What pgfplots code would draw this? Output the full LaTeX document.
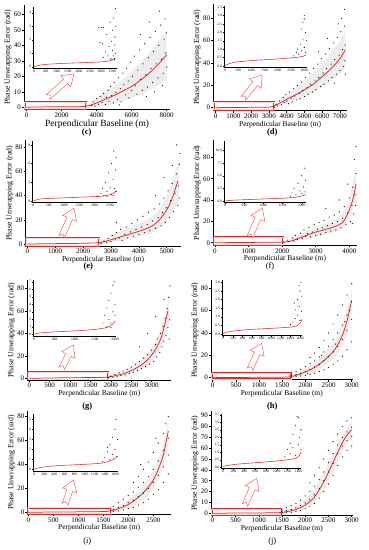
\documentclass[border=0pt]{standalone}
\usepackage{fontspec}
\setmainfont{Liberation Serif}
\usepackage{pgfplots}
\pgfplotsset{compat=1.18}
\definecolor{cr}{RGB}{232,36,36}
\definecolor{ar}{RGB}{242,110,110}
\definecolor{dotc}{RGB}{160,160,160}
\definecolor{bandc}{RGB}{237,237,237}
\definecolor{pk}{RGB}{252,215,215}
\pgfplotsset{
 mainax/.style={scale only axis, anchor=south west, axis lines*=left,
   axis line style={line width=0.8pt}, tick align=outside, major tick length=2pt,
   tick style={black, line width=0.5pt},
   ticklabel style={font=\fontsize{7}{7}\selectfont, inner sep=1pt},
   xlabel style={font=\fontsize{7.5}{8}\selectfont, inner sep=1pt},
   ylabel style={font=\fontsize{7.8}{8}\selectfont, inner sep=1pt},
   xlabel={Perpendicular Baseline (m)}, ylabel={Phase Unwrapping Error (rad)},
   /pgf/number format/set thousands separator={},
   /pgf/number format/assume math mode=true, clip=false},
 inax/.style={scale only axis, anchor=south west, axis lines*=left,
   axis line style={line width=0.55pt}, tick align=outside, major tick length=1.2pt,
   tick style={black, line width=0.35pt},
   ticklabel style={font=\fontsize{3.6}{3.6}\selectfont, inner sep=0.6pt},
   /pgf/number format/set thousands separator={},
   /pgf/number format/assume math mode=true, clip=false},
 sc/.style={only marks, mark=*, mark size=0.32pt, mark options={draw=none, fill=dotc}},
 isc/.style={only marks, mark=*, mark size=0.25pt, mark options={draw=none, fill=dotc}},
 cv/.style={no marks, smooth, color=cr, line width=0.75pt},
 icv/.style={no marks, smooth, color=cr, line width=0.55pt},
 bd/.style={fill=bandc, draw=none},
 rb/.style={no marks, sharp plot, color=cr, line width=0.6pt, double=pk, double distance=0.7pt},
}
\newcommand{\hollowarrow}[4]{%
 \begin{scope}[shift={(#1pt,#2pt)}, rotate=#3, x=1pt, y=1pt]
 \draw[ar, line width=0.55pt, fill=white] (3,0) -- (0,3) -- ({#4-11},3) -- ({#4-11},7.5) -- (#4,0) -- ({#4-11},-7.5) -- ({#4-11},-3) -- (0,-3) -- cycle;
 \end{scope}}
\begin{document}
\begin{tikzpicture}
\useasboundingbox (0,0) rectangle (369pt,550pt);
% ================= (c)
\begin{axis}[mainax, at={(24.07pt,440.7pt)}, width=146.1pt, height=104.3pt,
  xmin=-150, xmax=8200, ymin=-1.3, ymax=66, xtick={0,2000,4000,6000,8000}, ytick={0,10,...,60},
  xlabel style={font=\fontsize{9.5}{10}\selectfont}]
\addplot[bd] coordinates {(3500,1.5)(4000,6)(4500,10)(5000,14)(5500,18)(6000,23)(6500,29)(7000,35)(7500,42)(8000,50)(8000,18)(7500,14)(7000,11)(6500,8)(6000,6)(5500,4)(5000,2.5)(4500,1.2)(4000,0.3)(3500,0)} -- cycle;
\addplot[sc] coordinates {(3700,1.2)(3800,3.5)(3900,0.8)(4000,5.5)(4100,2)(4200,7)(4300,3.2)(4400,9)(4500,1.8)(4550,6.5)(4650,11)(4700,4)(4800,13.5)(4850,7.5)(4950,2.8)(5000,16)(5100,9.5)(5200,5)(5250,19)(5350,12)(5400,3.5)(5500,22)(5550,14.5)(5650,8)(5700,25)(5800,17)(5850,6)(5950,29)(6000,11)(6050,20)(6150,33)(6200,14)(6300,8.5)(6350,24)(6450,37)(6500,18)(6600,11)(6650,28)(6750,41)(6800,21)(6900,13)(6950,32)(7050,45)(7100,25)(7200,16)(7250,36)(7350,49)(7400,28)(7500,19)(7550,40)(7650,53)(7700,31)(7800,22)(7850,44)(7900,57)(7950,35)(8000,26)(7980,48)(7750,14)(7300,10)(6850,7)(5300,1.5)(7600,62)(7000,55)(6500,47)};
\addplot[rb] coordinates {(-120,-0.9)(3400,-0.9)(3400,3.3)(-120,3.3)} -- cycle;
\addplot[cv] coordinates {(0,0)(500,0.2)(1500,0.3)(2500,0.35)(3300,0.5)(3600,1.2)(4000,2.8)(4500,5.2)(5000,7.7)(5500,10.5)(6000,13.5)(6500,17.5)(7000,22)(7500,27.5)(8000,33.8)};
\end{axis}
\hollowarrow{48}{453}{41.5}{34.7}
\begin{axis}[inax, at={(33.2pt,481.95pt)}, width=83.6pt, height=61pt,
  xmin=-50, xmax=3700, ymin=-0.1, ymax=4.42, ytick={0,1,2,3,4}, xtick={0,500,...,3500}]
\addplot[isc] coordinates {(2900,2.9)(3000,2.9)(3100,2.9)(2950,1.8)(3050,1.7)(3100,0.7)(3200,1.1)(3250,2.4)(3300,0.8)(3350,1.5)(3400,3.3)(3420,0.6)(3450,1.9)(3500,1.2)(3500,2.7)(3550,0.8)(3550,3.6)(3600,1.6)(3600,0.6)(3620,2.2)(3650,4.3)(3650,1.0)(3660,3.0)(3580,0.5)(3480,0.55)};
\addplot[icv] coordinates {(0,0)(200,0.1)(500,0.17)(1000,0.22)(1500,0.26)(2000,0.29)(2500,0.32)(3000,0.36)(3300,0.42)(3500,0.5)(3650,0.6)};
\end{axis}
\node[font=\bfseries\fontsize{8.5}{8.5}\selectfont] at (86.7pt,417.3pt) {(c)};
% ================= (d)
\begin{axis}[mainax, at={(213.3pt,439.3pt)}, width=133.8pt, height=106.9pt,
  xmin=-135, xmax=7400, ymin=-2.7, ymax=93, xtick={0,1000,...,7000}, ytick={0,20,...,80}]
\addplot[bd] coordinates {(3200,1)(3600,7)(4000,12)(4500,18)(5000,24)(5500,31)(6000,40)(6500,49)(7000,60)(7300,68)(7300,36)(7000,30)(6500,24)(6000,19)(5500,14)(5000,10)(4500,7)(4000,4)(3600,1.5)(3200,0)} -- cycle;
\addplot[sc] coordinates {(3300,0.5)(3400,3)(3500,1.5)(3600,6)(3700,2.5)(3800,9)(3850,4.5)(3950,12)(4000,6)(4100,3.5)(4150,14)(4250,8.5)(4300,5)(4400,17)(4450,10.5)(4550,7)(4600,20)(4700,13)(4750,8)(4850,23)(4900,15.5)(5000,10)(5050,27)(5150,18)(5200,12)(5300,31)(5350,21)(5450,14)(5500,35)(5600,24)(5650,16)(5750,39)(5800,27)(5900,19)(5950,44)(6050,31)(6100,21)(6200,48)(6250,35)(6350,24)(6400,53)(6500,39)(6550,27)(6650,58)(6700,43)(6800,30)(6850,63)(6950,47)(7000,33)(7050,68)(7150,52)(7200,37)(7250,73)(7300,56)(7280,42)(7100,80)(7250,88)(6900,75)(6300,62)(5800,50)(7300,30)(6700,22)};
\addplot[rb] coordinates {(-110,-1.9)(3300,-1.9)(3300,4.8)(-110,4.8)} -- cycle;
\addplot[cv] coordinates {(0,0)(1000,0.2)(2000,0.3)(3000,0.5)(3300,1.5)(3600,4)(4000,7.5)(4500,11.5)(5000,16)(5500,21)(6000,28)(6500,35)(7000,44)(7300,52)};
\end{axis}
\hollowarrow{243.3}{451.7}{50.8}{30}
\begin{axis}[inax, at={(224pt,482.7pt)}, width=82.9pt, height=61.7pt,
  xmin=-38, xmax=3100, ymin=-0.08, ymax=3.6, ytick={0,0.5,...,3.5}, xtick={0,500,...,3000},
  yticklabel style={/pgf/number format/.cd, fixed, fixed zerofill, precision=1}]
\addplot[isc] coordinates {(2600,0.6)(2700,0.8)(2750,1.0)(2800,0.7)(2850,1.3)(2900,0.9)(2950,1.6)(2950,2.6)(3000,1.1)(3000,3.0)(3050,2.0)(3050,0.8)(3000,2.8)(2900,2.2)(3080,1.5)};
\addplot[icv] coordinates {(0,0.02)(100,0.1)(300,0.2)(500,0.25)(1000,0.32)(1500,0.37)(2000,0.42)(2500,0.48)(2800,0.53)(3000,0.6)(3080,0.68)};
\end{axis}
\node[font=\bfseries\fontsize{8.5}{8.5}\selectfont] at (272.3pt,417.3pt) {(d)};
% ================= (e)
\begin{axis}[mainax, at={(25.6pt,303.94pt)}, width=155pt, height=106pt,
  xmin=-60, xmax=5500, ymin=-1.7, ymax=86, xtick={0,1000,...,5000}, ytick={0,20,...,80}]
\addplot[bd] coordinates {(2600,1.5)(3000,7)(3500,12)(4000,17)(4500,23)(4800,30)(5000,40)(5200,52)(5450,72)(5450,36)(5200,26)(5000,19)(4800,14)(4500,9)(4000,6)(3500,3.5)(3000,1.5)(2600,0)} -- cycle;
\addplot[sc] coordinates {(2650,0.5)(2750,2.5)(2850,1)(2900,4.5)(3000,2)(3050,7)(3150,3.5)(3200,9.5)(3300,5)(3350,12)(3400,3)(3500,8)(3550,14)(3600,5)(3700,10)(3750,17)(3800,6.5)(3900,12)(3950,20)(4000,8)(4100,14)(4150,23)(4200,9.5)(4300,16)(4350,26)(4400,11)(4500,19)(4550,29)(4600,13)(4700,22)(4750,33)(4800,15)(4850,26)(4900,38)(4950,18)(5000,30)(5050,44)(5100,22)(5150,36)(5200,50)(5250,27)(5300,42)(5350,58)(5400,32)(5420,48)(5450,66)(5480,75)(5350,82)(5200,65)(4900,55)(5450,38)(4600,40)(3200,18)};
\addplot[rb] coordinates {(-40,-1.3)(2580,-1.3)(2580,5)(-40,5)} -- cycle;
\addplot[cv] coordinates {(0,0)(1000,0.3)(2000,0.6)(2600,1.2)(3000,3.5)(3500,7)(4000,10.5)(4400,14)(4700,19)(5000,28)(5200,38)(5400,52)};
\end{axis}
\hollowarrow{61.7}{313.3}{66.6}{31}
\begin{axis}[inax, at={(32.1pt,347.8pt)}, width=84.7pt, height=61pt,
  xmin=-40, xmax=2720, ymin=-0.2, ymax=9.6, ytick={0,3,6,9}, xtick={0,500,...,2500}]
\addplot[isc] coordinates {(2100,0.8)(2200,1.2)(2250,2.0)(2300,0.9)(2350,3.0)(2400,1.5)(2450,4.5)(2500,2.2)(2550,6.0)(2550,1.0)(2600,3.5)(2620,8.0)(2650,2.0)(2680,5.0)(2700,1.5)(2700,7.0)(2400,0.7)(2600,0.9)};
\addplot[icv] coordinates {(0,0)(200,0.3)(500,0.4)(1000,0.5)(1500,0.6)(2000,0.7)(2300,0.8)(2500,1.0)(2650,1.4)(2700,1.7)};
\end{axis}
\node[font=\bfseries\fontsize{8.5}{8.5}\selectfont] at (88.3pt,283.3pt) {(e)};
% ================= (f)
\begin{axis}[mainax, at={(213.3pt,304.7pt)}, width=143.4pt, height=105pt,
  xmin=-50, xmax=4220, ymin=-2.4, ymax=96, xtick={0,1000,...,4000}, ytick={0,20,...,80}]
\addplot[bd] coordinates {(2000,1)(2300,4)(2600,9)(3000,15)(3300,18)(3600,22)(3800,28)(4000,40)(4200,72)(4200,40)(4000,22)(3800,13)(3600,10)(3300,8)(3000,5.5)(2600,2.5)(2300,0.8)(2000,0)} -- cycle;
\addplot[sc] coordinates {(2050,0.5)(2150,2.5)(2200,1)(2300,4.5)(2350,1.5)(2400,7)(2450,3)(2550,9)(2600,4)(2650,12)(2700,6)(2750,8.5)(2800,14)(2850,5.5)(2900,10)(2950,17)(3000,7)(3050,12.5)(3100,19)(3150,8)(3200,14)(3250,21)(3300,9.5)(3350,16)(3400,24)(3450,11)(3500,18)(3550,26)(3600,12)(3650,20)(3700,29)(3750,14)(3800,23)(3850,34)(3900,17)(3950,28)(4000,42)(4030,20)(4080,35)(4100,52)(4130,27)(4170,45)(4200,65)(4190,35)(4150,78)(4200,90)(3950,55)(3700,40)(3300,32)(4100,18)};
\addplot[rb] coordinates {(-30,-1.9)(2035,-1.9)(2035,5)(-30,5)} -- cycle;
\addplot[cv] coordinates {(0,0)(1000,0.3)(2000,0.6)(2300,2)(2600,5.5)(3000,10)(3300,12.5)(3600,15.5)(3800,19)(3950,27)(4100,40)(4200,55)};
\end{axis}
\hollowarrow{250}{313.3}{66.6}{31}
\begin{axis}[inax, at={(223.85pt,347.5pt)}, width=81.7pt, height=61pt,
  xmin=-30, xmax=2100, ymin=-0.3, ymax=11.8, ytick={0,2.5,...,10}, xtick={0,500,...,2000},
  yticklabel style={/pgf/number format/.cd, fixed, fixed zerofill, precision=1}]
\addplot[isc] coordinates {(1700,0.9)(1750,1.6)(1800,2.5)(1850,1.2)(1900,3.5)(1950,2.0)(2000,5.0)(2000,1.5)(2050,2.8)(2080,6.5)(2090,1.8)(2100,4.0)};
\addplot[icv] coordinates {(0,0)(200,0.15)(500,0.25)(1000,0.4)(1500,0.55)(1800,0.7)(1950,0.9)(2050,1.1)(2100,1.3)};
\end{axis}
\node[font=\fontsize{8.5}{8.5}\selectfont] at (270pt,284pt) {(f)};
% ================= (g)
\begin{axis}[mainax, at={(27.34pt,170pt)}, width=143.9pt, height=99.6pt,
  xmin=-48, xmax=3480, ymin=-1.5, ymax=87, xtick={0,500,...,3000}, ytick={0,20,...,80}]
\addplot[bd] coordinates {(1900,1.5)(2100,4)(2300,6.5)(2500,10)(2700,15)(2900,22)(3100,33)(3250,46)(3420,72)(3420,48)(3250,30)(3100,19)(2900,11)(2700,7)(2500,4)(2300,2)(2100,0.8)(1900,0)} -- cycle;
\addplot[sc] coordinates {(1950,0.5)(2000,2)(2050,1)(2100,3.5)(2150,1.5)(2200,5)(2250,2.5)(2300,6.5)(2350,3)(2400,8)(2450,4.5)(2500,10)(2550,5.5)(2600,12.5)(2650,7)(2700,15)(2750,8.5)(2800,18)(2850,10.5)(2900,21)(2950,12.5)(3000,25)(3050,15)(3100,30)(3120,19)(3150,35)(3200,23)(3220,40)(3250,28)(3280,46)(3300,33)(3330,53)(3350,38)(3380,62)(3400,45)(3420,72)(3440,52)(3450,82)(3300,70)(3100,55)(2900,40)(3430,35)(2700,28)};
\addplot[rb] coordinates {(-30,-1.1)(1940,-1.1)(1940,5.3)(-30,5.3)} -- cycle;
\addplot[cv] coordinates {(0,0)(500,0.3)(1000,0.5)(1500,0.7)(1900,1)(2100,2.3)(2300,4)(2500,6.8)(2700,10.8)(2900,16.5)(3100,26)(3250,38)(3400,60)};
\end{axis}
\hollowarrow{61.7}{181.7}{63.5}{26}
\begin{axis}[inax, at={(33.1pt,214.2pt)}, width=83.1pt, height=55.5pt,
  xmin=-30, xmax=2030, ymin=-0.2, ymax=7.2, ytick={0,1,...,7}, xtick={0,500,...,2000}]
\addplot[isc] coordinates {(1700,1.5)(1750,2.5)(1800,1.0)(1800,3.5)(1850,4.5)(1850,2.0)(1900,5.5)(1900,1.5)(1950,6.5)(1950,3.0)(1980,7.0)(2000,4.0)(2000,2.5)(1900,0.9)};
\addplot[icv] coordinates {(0,0)(100,0.15)(300,0.25)(600,0.35)(1000,0.45)(1400,0.6)(1700,0.8)(1850,1.0)(1950,1.4)(2000,1.8)};
\end{axis}
\node[font=\bfseries\fontsize{8.5}{8.5}\selectfont] at (87.3pt,144pt) {(g)};
% ================= (h)
\begin{axis}[mainax, at={(211pt,170.1pt)}, width=141.6pt, height=99.5pt,
  xmin=-37, xmax=3020, ymin=-2, ymax=87, xtick={0,500,...,3000}, ytick={0,20,...,80}]
\addplot[bd] coordinates {(1650,1.5)(1900,6)(2100,11)(2300,17)(2500,26)(2650,34)(2800,48)(2900,62)(3000,80)(3000,56)(2900,40)(2800,29)(2650,18)(2500,13)(2300,7)(2100,3.5)(1900,1.5)(1650,0)} -- cycle;
\addplot[sc] coordinates {(1700,0.5)(1700,2)(1700,3.5)(1800,1)(1800,3)(1800,5.5)(1900,1.5)(1900,4)(1900,7.5)(2000,2)(2000,5.5)(2000,10)(2100,3)(2100,7.5)(2100,12.5)(2100,18)(2200,4)(2200,9.5)(2200,15)(2200,22)(2300,5.5)(2300,12)(2300,18.5)(2300,27)(2400,7)(2400,15)(2400,23)(2400,33)(2500,9)(2500,19)(2500,28)(2500,40)(2600,12)(2600,23)(2600,34)(2600,48)(2700,15)(2700,28)(2700,40)(2700,56)(2800,19)(2800,34)(2800,47)(2800,65)(2900,25)(2900,42)(2900,56)(2900,74)(3000,32)(3000,52)(3000,68)(3000,84)(2050,4)(2350,20)(2650,30)(2850,50)(2950,60)};
\addplot[rb] coordinates {(-20,-1.5)(1690,-1.5)(1690,3.9)(-20,3.9)} -- cycle;
\addplot[cv] coordinates {(0,0)(500,0.2)(1000,0.3)(1500,0.45)(1700,1)(1900,3.5)(2100,7)(2300,12)(2500,19)(2650,26)(2800,38)(2900,51)(3000,69)};
\end{axis}
\hollowarrow{250}{180.7}{65.8}{28.5}
\begin{axis}[inax, at={(221.9pt,214.6pt)}, width=80.5pt, height=55.6pt,
  xmin=-30, xmax=1650, ymin=-0.08, ymax=3.15, ytick={0,0.5,...,3.0}, xtick={0,200,...,1600},
  yticklabel style={/pgf/number format/.cd, fixed, fixed zerofill, precision=1}]
\addplot[isc] coordinates {(1400,0.55)(1450,0.7)(1500,0.9)(1500,1.4)(1550,1.1)(1550,2.0)(1580,1.6)(1600,2.5)(1600,0.8)(1620,3.0)(1630,1.3)(1640,2.2)(1480,1.8)(1580,2.8)};
\addplot[icv] coordinates {(0,0.02)(100,0.12)(300,0.2)(600,0.27)(1000,0.33)(1300,0.38)(1450,0.42)(1550,0.5)(1600,0.62)(1640,0.85)};
\end{axis}
\node[font=\bfseries\fontsize{8.5}{8.5}\selectfont] at (272.3pt,144pt) {(h)};
% ================= (i)
\begin{axis}[mainax, at={(27.45pt,35.7pt)}, width=143.35pt, height=103.6pt,
  xmin=-17, xmax=2850, ymin=-1.7, ymax=85, xtick={0,500,...,2500}, ytick={0,20,...,80}]
\addplot[bd] coordinates {(1600,1.5)(1800,5)(2000,10)(2200,18)(2400,28)(2500,35)(2600,45)(2700,57)(2800,75)(2800,56)(2700,38)(2600,27)(2500,20)(2400,14)(2200,7.5)(2000,3.5)(1800,1.2)(1600,0)} -- cycle;
\addplot[sc] coordinates {(1700,0.5)(1700,2.5)(1700,5)(1800,1)(1800,4)(1800,8)(1900,2)(1900,5.5)(1900,11)(2000,3)(2000,8)(2000,14)(2100,4)(2100,10)(2100,17)(2100,25)(2200,6)(2200,13)(2200,21)(2200,30)(2300,8)(2300,16)(2300,25)(2300,36)(2400,11)(2400,20)(2400,30)(2400,42)(2500,15)(2500,25)(2500,36)(2500,50)(2600,19)(2600,31)(2600,43)(2600,58)(2700,25)(2700,38)(2700,52)(2700,66)(2800,32)(2800,48)(2800,62)(2800,80)(2250,40)(2550,62)(2750,74)};
\addplot[rb] coordinates {(-5,-1.3)(1654,-1.3)(1654,3.9)(-5,3.9)} -- cycle;
\addplot[cv] coordinates {(0,0)(500,0.2)(1000,0.35)(1500,0.6)(1650,1.2)(1800,3)(2000,6.5)(2200,12.5)(2400,21)(2500,27)(2600,36)(2700,48)(2800,68)};
\end{axis}
\hollowarrow{65}{45.7}{71}{25.7}
\begin{axis}[inax, at={(33pt,79.2pt)}, width=85pt, height=56.5pt,
  xmin=-25, xmax=1660, ymin=-0.15, ymax=5.5, ytick={0,1,...,5}, xtick={0,200,...,1600}]
\addplot[isc] coordinates {(1350,0.8)(1400,1.2)(1450,1.8)(1500,1.0)(1500,2.5)(1550,3.2)(1550,1.5)(1600,4.0)(1600,2.0)(1620,5.0)(1640,1.3)(1650,3.0)(1450,2.2)};
\addplot[icv] coordinates {(0,0)(100,0.15)(300,0.3)(600,0.4)(1000,0.5)(1300,0.6)(1450,0.75)(1550,0.95)(1620,1.15)(1650,1.3)};
\end{axis}
\node[font=\fontsize{8.5}{8.5}\selectfont] at (87.3pt,9pt) {(i)};
% ================= (j)
\begin{axis}[mainax, at={(211pt,35pt)}, width=141.6pt, height=103.7pt,
  xmin=-28, xmax=3020, ymin=-1.6, ymax=94, xtick={0,500,...,3000}, ytick={0,10,...,90}]
\addplot[bd] coordinates {(1450,1.5)(1600,3)(1800,7)(2000,13)(2200,23)(2400,38)(2600,55)(2800,72)(2900,79)(3000,84)(3000,68)(2900,64)(2800,57)(2600,39)(2400,21)(2200,9)(2000,4)(1800,1.5)(1600,0.5)(1450,0)} -- cycle;
\addplot[sc] coordinates {(1500,0.3)(1500,1.5)(1500,3)(1600,0.5)(1600,2.5)(1600,5)(1700,1)(1700,3.5)(1700,7)(1800,1.5)(1800,5)(1800,9)(1900,2.5)(1900,7)(1900,12)(2000,4)(2000,9.5)(2000,16)(2100,6)(2100,13)(2100,20)(2100,28)(2200,9)(2200,17)(2200,25)(2200,35)(2300,14)(2300,23)(2300,31)(2300,42)(2400,20)(2400,30)(2400,38)(2400,50)(2500,27)(2500,38)(2500,47)(2500,58)(2600,35)(2600,46)(2600,55)(2600,66)(2700,44)(2700,55)(2700,63)(2700,73)(2800,52)(2800,62)(2800,70)(2800,80)(2900,58)(2900,67)(2900,75)(2900,85)(3000,62)(3000,71)(3000,79)(3000,88)};
\addplot[rb] coordinates {(-12,-1.2)(1475,-1.2)(1475,4)(-12,4)} -- cycle;
\addplot[cv] coordinates {(0,0)(500,0.2)(1000,0.3)(1450,0.6)(1600,1.5)(1800,3.5)(2000,7.5)(2200,15)(2400,29)(2600,47)(2800,65)(2900,72)(3000,77)};
\end{axis}
\hollowarrow{245}{45}{66.3}{29}
\begin{axis}[inax, at={(221.35pt,81.5pt)}, width=79.65pt, height=54.5pt,
  xmin=-25, xmax=1450, ymin=-0.08, ymax=3.55, ytick={0,0.5,...,3.5}, xtick={0,200,...,1400},
  yticklabel style={/pgf/number format/.cd, fixed, fixed zerofill, precision=1}]
\addplot[isc] coordinates {(1150,0.7)(1200,1.2)(1250,0.9)(1250,1.6)(1300,1.3)(1300,2.2)(1350,0.8)(1350,2.8)(1400,1.5)(1400,3.3)(1420,2.0)(1450,2.5)(1450,1.2)(1380,3.4)};
\addplot[icv] coordinates {(0,0.02)(50,0.1)(200,0.18)(400,0.25)(600,0.3)(800,0.36)(1000,0.42)(1200,0.5)(1350,0.6)(1420,0.8)(1450,1.0)};
\end{axis}
\node[font=\fontsize{8.5}{8.5}\selectfont] at (272.3pt,9pt) {(j)};
\end{tikzpicture}
\end{document}
